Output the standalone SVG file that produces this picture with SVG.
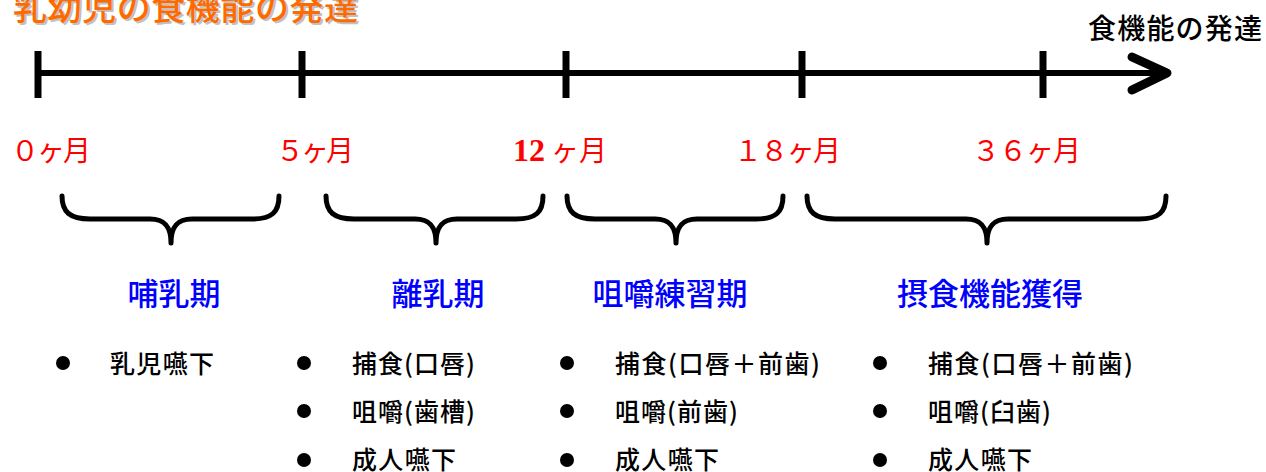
<svg xmlns="http://www.w3.org/2000/svg" width="1266" height="472" viewBox="0 0 1266 472">
<style>
.month{font-family:"Liberation Serif","Noto Sans CJK JP",serif;font-size:28px;fill:#FF0000;}
.phase{font-family:"Noto Sans CJK JP",sans-serif;font-size:31px;font-weight:500;fill:#0000FF;text-anchor:middle;}
.item{font-family:"Noto Sans CJK JP",sans-serif;font-size:25px;font-weight:500;fill:#000;}
.axis{stroke:#000;stroke-width:6;fill:none;}
.tick{stroke:#000;stroke-width:7;fill:none;}
.brace{stroke:#000;stroke-width:5;fill:none;stroke-linecap:round;stroke-linejoin:round;}
.title{font-family:"Noto Sans CJK JP",sans-serif;font-size:34px;font-weight:500;}
</style>
<rect width="1266" height="472" fill="#fff"/>
<g id="title">
<text class="title" x="15" y="22" fill="#999" opacity="0.6" textLength="345">乳幼児の食機能の発達</text>
<text class="title" x="13" y="20" fill="#FF6A00" textLength="345">乳幼児の食機能の発達</text>
</g>
<g id="axis-label">
<text x="1088" y="39" font-family="Noto Sans CJK JP, sans-serif" font-size="28" font-weight="500" fill="#000" textLength="174">食機能の発達</text>
</g>
<g id="connectors">
<line class="axis" x1="38" y1="73" x2="1166" y2="73"/>
<polyline points="1132,57 1167,73 1132,90" stroke="#000" stroke-width="9" fill="none" stroke-linecap="round" stroke-linejoin="round"/>
<line class="tick" x1="38" y1="51" x2="38" y2="98"/>
<line class="tick" x1="302" y1="51" x2="302" y2="98"/>
<line class="tick" x1="566" y1="51" x2="566" y2="98"/>
<line class="tick" x1="802" y1="51" x2="802" y2="98"/>
<line class="tick" x1="1043" y1="51" x2="1043" y2="98"/>
</g>
<g id="months">
<text class="month" x="11" y="161" textLength="80">０ヶ月</text>
<text class="month" x="276" y="161" textLength="78">５ヶ月</text>
<text class="month" x="513" y="161"><tspan font-weight="bold" font-size="32">12</tspan><tspan dx="6">ヶ月</tspan></text>
<text class="month" x="734" y="161" textLength="107">１８ヶ月</text>
<text class="month" x="972" y="161" textLength="109">３６ヶ月</text>
</g>
<g id="braces">
<path class="brace" d="M62,196 C62,212 70,219 90,219 L150,219 C166,219 171,228 171,243 C171,228 176,219 192,219 L252,219 C272,219 279,212 279,196"/>
<path class="brace" d="M326,196 C326,212 334,219 354,219 L415,219 C431,219 436,228 436,243 C436,228 441,219 457,219 L516,219 C536,219 543,212 543,196"/>
<path class="brace" d="M567,196 C567,212 575,219 595,219 L655,219 C671,219 676,228 676,243 C676,228 681,219 697,219 L756,219 C776,219 783,212 783,196"/>
<path class="brace" d="M807,196 C807,212 815,219 835,219 L966,219 C982,219 987,228 987,243 C987,228 992,219 1008,219 L1139,219 C1159,219 1166,212 1166,196"/>
</g>
<g id="phase-1">
<text class="phase" x="174" y="305">哺乳期</text>
<circle cx="63" cy="363" r="7"/>
<text class="item" x="110" y="373" textLength="104">乳児嚥下</text>
</g>
<g id="phase-2">
<text class="phase" x="438" y="305">離乳期</text>
<circle cx="304" cy="363" r="7"/>
<circle cx="304" cy="411" r="7"/>
<circle cx="304" cy="460" r="7"/>
<text class="item" x="352" y="373" textLength="123">捕食(口唇)</text>
<text class="item" x="352" y="421" textLength="123">咀嚼(歯槽)</text>
<text class="item" x="352" y="469" textLength="104">成人嚥下</text>
</g>
<g id="phase-3">
<text class="phase" x="670" y="305">咀嚼練習期</text>
<circle cx="567" cy="363" r="7"/>
<circle cx="567" cy="411" r="7"/>
<circle cx="567" cy="460" r="7"/>
<text class="item" x="615" y="373" textLength="205">捕食(口唇＋前歯)</text>
<text class="item" x="615" y="421" textLength="123">咀嚼(前歯)</text>
<text class="item" x="615" y="469" textLength="104">成人嚥下</text>
</g>
<g id="phase-4">
<text class="phase" x="990" y="305">摂食機能獲得</text>
<circle cx="880" cy="363" r="7"/>
<circle cx="880" cy="411" r="7"/>
<circle cx="880" cy="460" r="7"/>
<text class="item" x="928" y="373" textLength="205">捕食(口唇＋前歯)</text>
<text class="item" x="928" y="421" textLength="123">咀嚼(臼歯)</text>
<text class="item" x="928" y="469" textLength="104">成人嚥下</text>
</g>
</svg>
